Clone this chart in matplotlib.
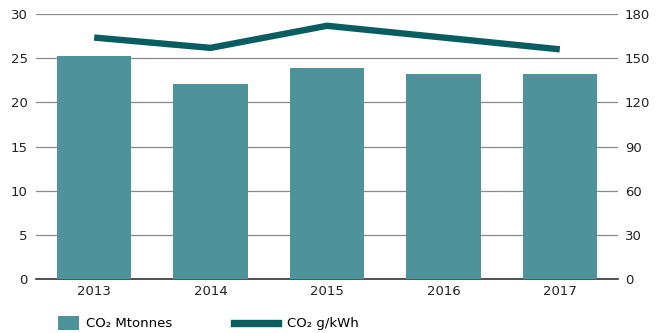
import numpy as np
import matplotlib.pyplot as plt
from matplotlib.patches import Patch
from matplotlib.lines import Line2D

plt.rcParams['font.family'] = ['DejaVu Sans']

# CO2 emissions per year
years = ["2013", "2014", "2015", "2016", "2017"]
co2_mt = [25.3, 22.1, 23.9, 23.2, 23.2]
co2_gkwh = [164, 157, 172, 164, 156]

bar_col = "#4e9399"
line_col = "#075d5f"

fig = plt.figure(figsize=(6.68, 3.33), dpi=100)
ax = fig.add_axes([36 / 668, 1 - 279 / 333, 582 / 668, 265 / 333])
ax2 = ax.twinx()

x = np.arange(len(years))
ax.bar(x, co2_mt, width=0.64, color=bar_col, zorder=3)
ax.set_xlim(-0.5, len(years) - 0.5)
ax.set_ylim(0, 30)
ax.set_yticks(range(0, 31, 5))
ax.set_xticks(x)
ax.set_xticklabels(years)
ax.grid(axis="y", color="#8a8a8a", lw=0.9, zorder=0)

ax2.plot(x, co2_gkwh, color=line_col, lw=4.6, solid_capstyle="butt", zorder=4)
ax2.set_ylim(0, 180)
ax2.set_yticks(range(0, 181, 30))

for a in (ax, ax2):
    for s in a.spines.values():
        s.set_visible(False)
    a.tick_params(length=0, labelsize=9.5, colors="#222222")
ax.tick_params(axis="y", pad=6)
ax2.tick_params(axis="y", pad=5)
ax.tick_params(axis="x", pad=4)
ax.spines["bottom"].set_visible(True)
ax.spines["bottom"].set_color("#333333")
ax.spines["bottom"].set_linewidth(1.2)
ax.set_zorder(ax2.get_zorder() - 1)
ax.patch.set_visible(False)

# two legend entries, each with its own handle size
fig.legend(handles=[Patch(facecolor=bar_col, label="CO₂ Mtonnes")],
           loc="lower left", bbox_to_anchor=(0.069, -0.028),
           frameon=False, fontsize=9.5, handlelength=1.6,
           handleheight=1.25, handletextpad=0.5)
fig.legend(handles=[Line2D([], [], color=line_col, lw=5.3, label="CO₂ g/kWh")],
           loc="lower left", bbox_to_anchor=(0.333, -0.028),
           frameon=False, fontsize=9.5, handlelength=3.3, handletextpad=0.7)

fig.savefig("out.png", dpi=100)
